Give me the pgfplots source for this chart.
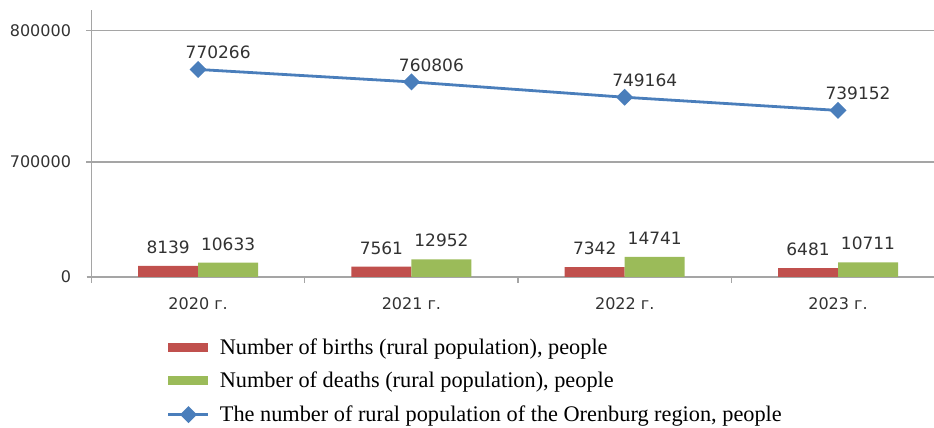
\documentclass[border=0pt]{standalone}
\usepackage{pgfplots}
\pgfplotsset{compat=1.18}
\usepackage{fontspec}
\setmainfont{Liberation Serif}
\newfontfamily\dv{DejaVu Sans}
\definecolor{gridgray}{RGB}{165,165,165}
\definecolor{barred}{RGB}{192,80,77}
\definecolor{bargreen}{RGB}{155,187,89}
\definecolor{lineblue}{RGB}{74,126,187}
\definecolor{txt}{RGB}{50,50,50}
\pgfplotsset{
  barlegend/.style={legend image code/.code={\fill[##1] (0pt,-4.5pt) rectangle (40pt,4.5pt); \path (48pt,0pt);}},
  linelegend/.style={legend image code/.code={\draw[##1] plot[mark repeat=2, mark phase=2] coordinates {(0pt,0pt) (20pt,0pt) (40pt,0pt)}; \path (48pt,0pt);}},
}
\begin{document}
\begin{tikzpicture}
\useasboundingbox (0,0) rectangle (934pt,428pt);
% bars
\begin{axis}[
  at={(91.5pt,151pt)}, anchor=south west,
  scale only axis, width=842.5pt, height=267.4pt,
  xmin=-0.5, xmax=3.45, ymin=0, ymax=196500,
  clip=false, scaled y ticks=false,
  axis x line*=bottom, axis y line*=left,
  axis line style={draw=gridgray, line width=1.3pt, -},
  xtick={0,1,2,3}, xticklabels={2020 г.,2021 г.,2022 г.,2023 г.},
  minor xtick={-0.5,0.5,1.5,2.5},
  major x tick style={draw=none},
  minor tick style={draw=gridgray, line width=1.3pt},
  major tick style={draw=gridgray, line width=1.3pt},
  minor tick length=6pt, major tick length=5pt, tick align=outside,
  ytick={0}, yticklabels={0},
  ticklabel style={font=\dv\fontsize{16}{18}\selectfont, text=txt},
  yticklabel style={xshift=-12pt},
  xticklabel style={yshift=-12pt},
  ybar, bar width=60pt,
  point meta=explicit symbolic,
  nodes near coords,
  every node near coord/.append style={font=\dv\fontsize{17}{19}\selectfont, text=txt, anchor=south, inner sep=0pt, yshift=12pt},
]
\addplot[fill=barred, draw=none, bar shift=-30pt] coordinates {(0,8139)[8139] (1,7561)[7561] (2,7342)[7342] (3,6481)[6481]};
\addplot[fill=bargreen, draw=none, bar shift=30pt] coordinates {(0,10633)[10633] (1,12952)[12952] (2,14741)[14741] (3,10711)[10711]};
\end{axis}
% line
\begin{axis}[
  at={(91.5pt,151pt)}, anchor=south west,
  scale only axis, width=842.5pt, height=267.4pt,
  xmin=-0.5, xmax=3.45, ymin=612680, ymax=815720,
  clip=false, scaled y ticks=false,
  hide x axis, axis y line*=left,
  axis line style={draw=gridgray, line width=1.3pt, -},
  ytick={700000,800000}, yticklabels={700000,800000},
  ymajorgrids, grid style={draw=gridgray, line width=1.3pt},
  major tick style={draw=gridgray, line width=1.3pt},
  major tick length=5pt, tick align=outside,
  ticklabel style={font=\dv\fontsize{16}{18}\selectfont, text=txt},
  yticklabel style={xshift=-12pt},
  point meta=explicit symbolic,
  nodes near coords,
  every node near coord/.append style={font=\dv\fontsize{17}{19}\selectfont, text=txt, anchor=south, inner sep=0pt, yshift=9pt, xshift=20pt},
  legend style={at={(axis description cs:0.0895,-0.222)}, anchor=north west, draw=none, fill=none,
    font=\fontsize{22.3}{24}\selectfont, row sep=12.5pt, inner sep=0pt,
    nodes={inner sep=2pt}},
  legend cell align=left,
]
\addlegendimage{fill=barred, draw=none, barlegend}
\addlegendentry{Number of births (rural population), people}
\addlegendimage{fill=bargreen, draw=none, barlegend}
\addlegendentry{Number of deaths (rural population), people}
\addplot[color=lineblue, line width=2.8pt, mark=square*, mark size=4.6pt, mark options={rotate=45, solid}, linelegend]
  coordinates {(0,770266)[770266] (1,760806)[760806] (2,749164)[749164] (3,739152)[739152]};
\addlegendentry{The number of rural population of the Orenburg region, people}
\end{axis}
\end{tikzpicture}
\end{document}
